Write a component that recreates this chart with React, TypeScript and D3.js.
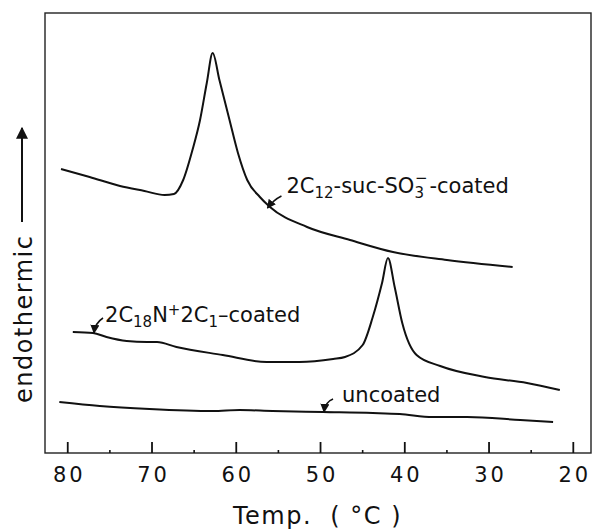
import * as d3 from 'd3';

// DSC traces (temperature in °C, signal in arbitrary units)
const sucTemp = [80.8, 77.4, 73.8, 70.9, 68.5, 67.4, 66.3, 65.2, 64.3, 63.5, 62.8, 62.0, 60.8, 59.8, 58.7, 57.2, 56.0, 51.6, 46.5, 41.4, 35.0, 27.2];
const sucSignal = [284, 276, 267, 262, 258, 259, 273, 303, 333, 370, 400, 373, 333, 300, 273, 256, 246, 226, 213, 201, 193, 186];

const quatTemp = [79.4, 77.0, 75.4, 73.0, 70.6, 69.4, 67.1, 61.6, 56.4, 52.5, 48.5, 47.1, 45.0, 43.8, 42.7, 42.0, 41.2, 40.3, 38.6, 35.8, 30.5, 25.5, 21.6];
const quatSignal = [121, 120, 116, 112, 111, 111, 106, 98, 91, 91, 94, 96, 108, 136, 170, 195, 166, 130, 98, 87, 76, 70, 63];

const bareTemp = [81.0, 76.2, 70.3, 62.8, 59.6, 55.7, 49.7, 43.8, 40.6, 36.7, 32.6, 26.3, 22.4];
const bareSignal = [51, 47, 44, 42, 43, 42, 41, 40, 39, 36, 36, 33, 31];

const majorTicks = [80, 70, 60, 50, 40, 30, 20];
const minorTicks = [75, 65, 55, 45, 35, 25];

const W = 593;
const H = 531;
const box = { left: 45, top: 13, right: 591, bottom: 453 };
const font = '"DejaVu Sans", sans-serif';

const zip = (a: number[], b: number[]) => a.map((t, i) => [t, b[i]] as [number, number]);

export default function App() {
  const x = d3.scaleLinear().domain([82.7, 17.9]).range([box.left, box.right]);
  const y = d3.scaleLinear().domain([0, 440]).range([box.bottom, box.top]);
  const line = d3
    .line<[number, number]>()
    .x((d) => x(d[0]))
    .y((d) => y(d[1]))
    .curve(d3.curveMonotoneX);

  const series = [zip(sucTemp, sucSignal), zip(quatTemp, quatSignal), zip(bareTemp, bareSignal)];

  // arrow tips sit on the curves
  const tip1 = [x(56.3), y(245)];
  const tip2 = [x(77.0), y(120)];
  const tip3 = [x(49.7), y(41)];

  return (
    <svg width={W} height={H} style={{ position: 'absolute', left: 0, top: 0, background: '#fff' }} fontFamily={font}>
      <defs>
        <marker id="head" viewBox="0 0 10 10" refX="9" refY="5" markerWidth="6" markerHeight="6" orient="auto">
          <path d="M0,0 L10,5 L0,10 z" fill="#111" />
        </marker>
      </defs>

      <rect x={box.left} y={box.top} width={box.right - box.left} height={box.bottom - box.top} fill="none" stroke="#222" strokeWidth={1.4} />

      {majorTicks.map((t) => (
        <g key={t}>
          <line x1={x(t)} x2={x(t)} y1={box.bottom} y2={box.bottom - 11} stroke="#111" strokeWidth={1.8} />
          <text x={x(t) + 1.5} y={482} fontSize={21} letterSpacing={3} textAnchor="middle" fill="#111">
            {t}
          </text>
        </g>
      ))}
      {minorTicks.map((t) => (
        <line key={t} x1={x(t)} x2={x(t)} y1={box.bottom} y2={box.bottom - 3} stroke="#111" strokeWidth={1.6} />
      ))}

      <text x={233} y={524} fontSize={24} letterSpacing={1.5} fill="#111" style={{ whiteSpace: 'pre' }}>
        {'Temp.  ( °C )'}
      </text>

      <text transform="translate(32,403) rotate(-90)" fontSize={24} letterSpacing={1.5} fill="#111">
        endothermic
      </text>
      <line x1={22} x2={22} y1={222} y2={128} stroke="#111" strokeWidth={2} markerEnd="url(#head)" />

      {series.map((s, i) => (
        <path key={i} d={line(s) || ''} fill="none" stroke="#111" strokeWidth={2} strokeLinejoin="round" />
      ))}

      <path d={`M${tip1[0] + 14},${tip1[1] - 12} Q${tip1[0] + 6},${tip1[1] - 8} ${tip1[0]},${tip1[1]}`} fill="none" stroke="#111" strokeWidth={1.5} markerEnd="url(#head)" />
      <text x={tip1[0] + 19} y={tip1[1] - 15} fontSize={21} fill="#111">
        2C<tspan fontSize={15} dy={5}>12</tspan>
        <tspan dy={-5}>-suc-SO</tspan>
        <tspan fontSize={15} dy={5}>3</tspan>
        <tspan fontSize={15} dx={-9} dy={-15}>−</tspan>
        <tspan dy={10} dx={2}>-coated</tspan>
      </text>

      <path d={`M${tip2[0] + 10},${tip2[1] - 15} Q${tip2[0] + 2},${tip2[1] - 10} ${tip2[0] + 1},${tip2[1]}`} fill="none" stroke="#111" strokeWidth={1.5} markerEnd="url(#head)" />
      <text x={tip2[0] + 12} y={tip2[1] - 11} fontSize={21} fill="#111">
        2C<tspan fontSize={15} dy={5}>18</tspan>
        <tspan dy={-5}>N</tspan>
        <tspan fontSize={15} dy={-7}>+</tspan>
        <tspan dy={7}>2C</tspan>
        <tspan fontSize={15} dy={5}>1</tspan>
        <tspan dy={-5}>–coated</tspan>
      </text>

      <path d={`M${tip3[0] + 10},${tip3[1] - 13} Q${tip3[0] + 2},${tip3[1] - 10} ${tip3[0] + 1},${tip3[1]}`} fill="none" stroke="#111" strokeWidth={1.5} markerEnd="url(#head)" />
      <text x={tip3[0] + 19} y={tip3[1] - 10} fontSize={21} fill="#111">
        uncoated
      </text>
    </svg>
  );
}
